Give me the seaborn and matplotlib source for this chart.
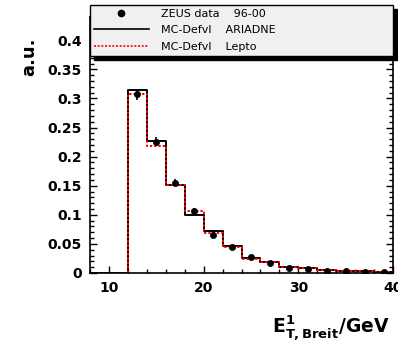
import numpy as np
import pandas as pd
import matplotlib
matplotlib.use("Agg")
import matplotlib.pyplot as plt
from matplotlib.lines import Line2D
from matplotlib.ticker import MultipleLocator, FixedLocator
import seaborn as sns

# ---- data ----
bin_edges = [8, 10, 12, 14, 16, 18, 20, 22, 24, 26, 28, 30, 32, 34, 36, 38, 40]
ariadne = [0.0, 0.0, 0.314, 0.227, 0.152, 0.099, 0.072, 0.047, 0.025, 0.019,
           0.010, 0.008, 0.005, 0.004, 0.003, 0.002]
lepto = [0.0, 0.0, 0.307, 0.219, 0.151, 0.106, 0.068, 0.044, 0.024, 0.019,
         0.011, 0.009, 0.006, 0.004, 0.003, 0.002]
data_x = [13, 15, 17, 19, 21, 23, 25, 27, 29, 31, 33, 35, 37, 39]
data_y = [0.307, 0.226, 0.155, 0.106, 0.066, 0.045, 0.027, 0.017, 0.009,
          0.007, 0.004, 0.003, 0.002, 0.002]
data_err = [0.010, 0.008, 0.006, 0.005, 0.004, 0.003, 0.002, 0.002, 0.0015,
            0.0015, 0.001, 0.001, 0.001, 0.001]
yticks = [0, 0.05, 0.1, 0.15, 0.2, 0.25, 0.3, 0.35, 0.4]
ytick_labels = ["0", "0.05", "0.1", "0.15", "0.2", "0.25", "0.3", "0.35", "0.4"]
xticks = [10, 20, 30, 40]
xtick_labels = ["10", "20", "30", "40"]
legend_labels = ["ZEUS data    96-00", "MC-Defvl    ARIADNE", "MC-Defvl    Lepto"]

plt.rcParams["font.family"] = ["DejaVu Sans"]
plt.rcParams["mathtext.default"] = "bf"

W, H = 398, 344
fig = plt.figure(figsize=(W / 100, H / 100), dpi=100)
fig.patch.set_facecolor("white")
ax = fig.add_axes([90 / W, 1 - 273 / H, 303 / W, 256 / H])

centers = [(a + b) / 2 for a, b in zip(bin_edges[:-1], bin_edges[1:])]
df = pd.DataFrame({"x": centers, "ariadne": ariadne, "lepto": lepto})

sns.histplot(data=df, x="x", weights="ariadne", bins=bin_edges, element="step",
             fill=False, color="black", linewidth=1.4, ax=ax)
sns.histplot(data=df, x="x", weights="lepto", bins=bin_edges, element="step",
             fill=False, color="red", linewidth=1.4, linestyle=(0, (1.2, 1.0)), ax=ax)

ax.errorbar(data_x, data_y, yerr=data_err, fmt="none", ecolor="black",
            elinewidth=1.2, capsize=0, zorder=4)
sns.scatterplot(x=data_x, y=data_y, color="black", s=20, marker="o",
                edgecolor="black", linewidth=0.5, ax=ax, zorder=5, legend=False)

ax.set_xlim(8, 40)
ax.set_ylim(0, 0.44)
ax.xaxis.set_major_locator(FixedLocator(xticks))
ax.set_xticklabels(xtick_labels)
ax.xaxis.set_minor_locator(MultipleLocator(2))
ax.set_yticks(yticks)
ax.set_yticklabels(ytick_labels)
ax.yaxis.set_minor_locator(MultipleLocator(0.01))
ax.tick_params(which="both", direction="in", top=True, right=True, width=1.0)
ax.tick_params(which="major", length=5)
ax.tick_params(which="minor", length=3)
ax.tick_params(axis="both", which="major", labelsize=10, pad=6)
for lbl in ax.get_xticklabels() + ax.get_yticklabels():
    lbl.set_fontweight("bold")
for sp in ax.spines.values():
    sp.set_linewidth(1.2)
    sp.set_color("black")

ax.set_xlabel(r"$E^{1}_{T,Breit}$/GeV", fontsize=13.5, fontweight="bold", ha="right")
ax.xaxis.set_label_coords(0.99, -0.155)
ax.set_ylabel("a.u.", fontsize=13, fontweight="bold", loc="top")
ax.yaxis.set_label_coords(-0.17, (273 - 38) / 256)

handles = [
    Line2D([], [], marker="o", ls="none", color="black", markersize=4.5),
    Line2D([], [], color="black", lw=1.2),
    Line2D([], [], color="red", lw=1.2, ls=(0, (1.2, 1.0))),
]
leg = ax.legend(handles, legend_labels, loc="upper left",
                bbox_to_anchor=(90 / W, 1 - 5 / H, 303 / W, 0),
                bbox_transform=fig.transFigure, mode="expand", borderaxespad=0,
                fancybox=False,
                shadow={"color": "black", "alpha": 1.0, "ox": 2.6, "oy": -3.2},
                edgecolor="black", facecolor="#f0f0f0", framealpha=1,
                fontsize=8, handlelength=5.0, handletextpad=1.1,
                labelspacing=0.6, borderpad=0.33)
leg.get_frame().set_linewidth(1.0)

fig.savefig("out.png", dpi=100)
